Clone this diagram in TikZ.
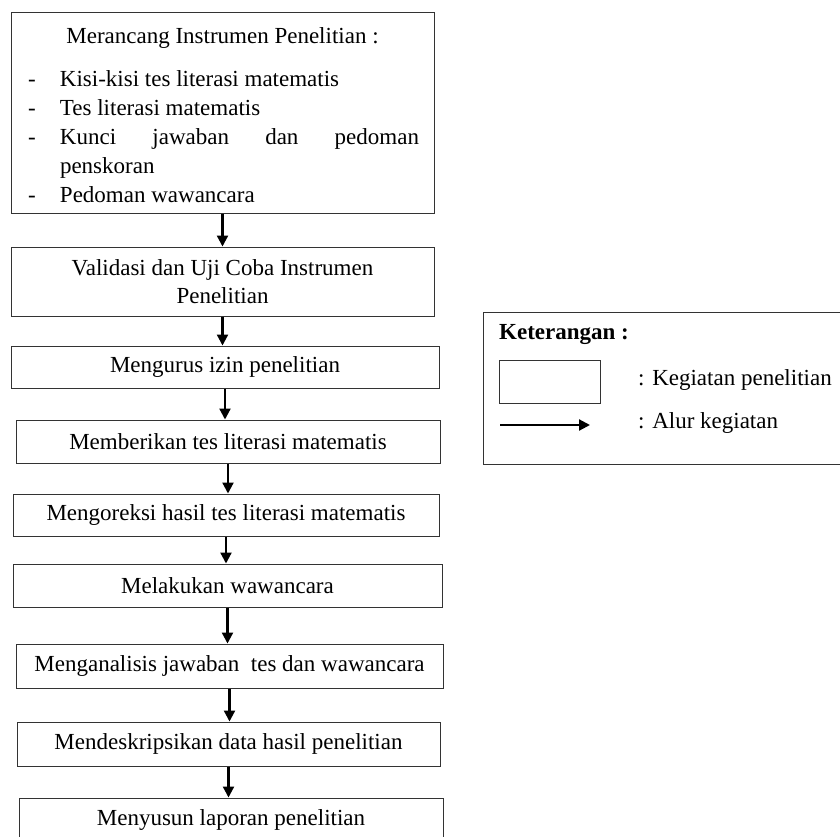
\documentclass[tikz,border=0pt]{standalone}
\usepackage{fontspec}
\setmainfont{Liberation Serif}
\usepackage{tikz}
\usetikzlibrary{arrows.meta,positioning,calc}

\tikzset{
  kotak/.style={draw=black!80, line width=1pt, inner sep=0pt, align=center,
    font=\fontsize{23}{28}\selectfont},
  alur/.style={-{Triangle[length=11pt,width=11pt]}, line width=2.2pt},
  teks/.style={inner sep=0pt, font=\fontsize{23}{28}\selectfont}
}
\newcommand{\butir}[1]{\par\hangindent=38pt\hangafter=1\noindent
  \makebox[38pt][l]{\hspace{6pt}-}#1\par}

\begin{document}
\begin{tikzpicture}[x=1pt,y=-1pt]
  \useasboundingbox (0,0) rectangle (840,836);
  \node[kotak, minimum width=423pt, minimum height=201pt](rancang) at (222.5,112.5){%
    \begin{minipage}{401pt}\fontsize{23}{29}\selectfont\tolerance=10000
      \vspace*{6pt}
      {\centering Merancang Instrumen Penelitian :\par}
      \vspace{14pt}
      \butir{Kisi-kisi tes literasi matematis}
      \butir{Tes literasi matematis}
      \butir{\makebox[359pt][s]{Kunci jawaban dan pedoman}\\penskoran}
      \butir{Pedoman wawancara}
    \end{minipage}};
  \node[kotak, minimum width=423pt, minimum height=69pt](validasi) at (222.5,281.5)
    {Validasi dan Uji Coba Instrumen\\Penelitian};
  \node[kotak, minimum width=428pt, minimum height=42pt](izin) at (225,367)
    {Mengurus izin penelitian};
  \node[kotak, minimum width=424pt, minimum height=43pt](tes) at (228,441.5)
    {Memberikan tes literasi matematis};
  \node[kotak, minimum width=426pt, minimum height=42pt](koreksi) at (226,515)
    {Mengoreksi hasil tes literasi matematis};
  \node[kotak, minimum width=429pt, minimum height=43pt](wawancara) at (227.5,585.5)
    {Melakukan wawancara};
  \node[kotak, minimum width=427pt, minimum height=44pt](analisis) at (229.5,666)
    {Menganalisis jawaban\ \ tes dan wawancara};
  \node[kotak, minimum width=423pt, minimum height=44pt](deskripsi) at (228.5,744)
    {Mendeskripsikan data hasil penelitian};
  \node[kotak, minimum width=424pt, minimum height=44pt](laporan) at (231,820)
    {Menyusun laporan penelitian};
  \foreach \a/\b in {rancang/validasi, validasi/izin, izin/tes, tes/koreksi,
    koreksi/wawancara, wawancara/analisis, analisis/deskripsi, deskripsi/laporan}
    \draw[alur](\a.south)--(\a.south |- \b.north);
  \node[draw=black!80, line width=1pt, minimum width=380pt, minimum height=152pt,
    anchor=north west](ket) at (483,312){};
  \node[teks, anchor=base west] (judul) at (499,339){\bfseries Keterangan :};
  \node[kotak, minimum width=101pt, minimum height=43pt](contoh) at (549.5,381.5){};
  \coordinate(A0) at (500,425);
  \coordinate(A1) at (590,425);
  \draw[alur](A0)--(A1);
  \node[teks, anchor=base west](ket1) at (638,385){: Kegiatan penelitian};
  \node[teks, anchor=base west](ket2) at (638,428){: Alur kegiatan};
\end{tikzpicture}
\end{document}
